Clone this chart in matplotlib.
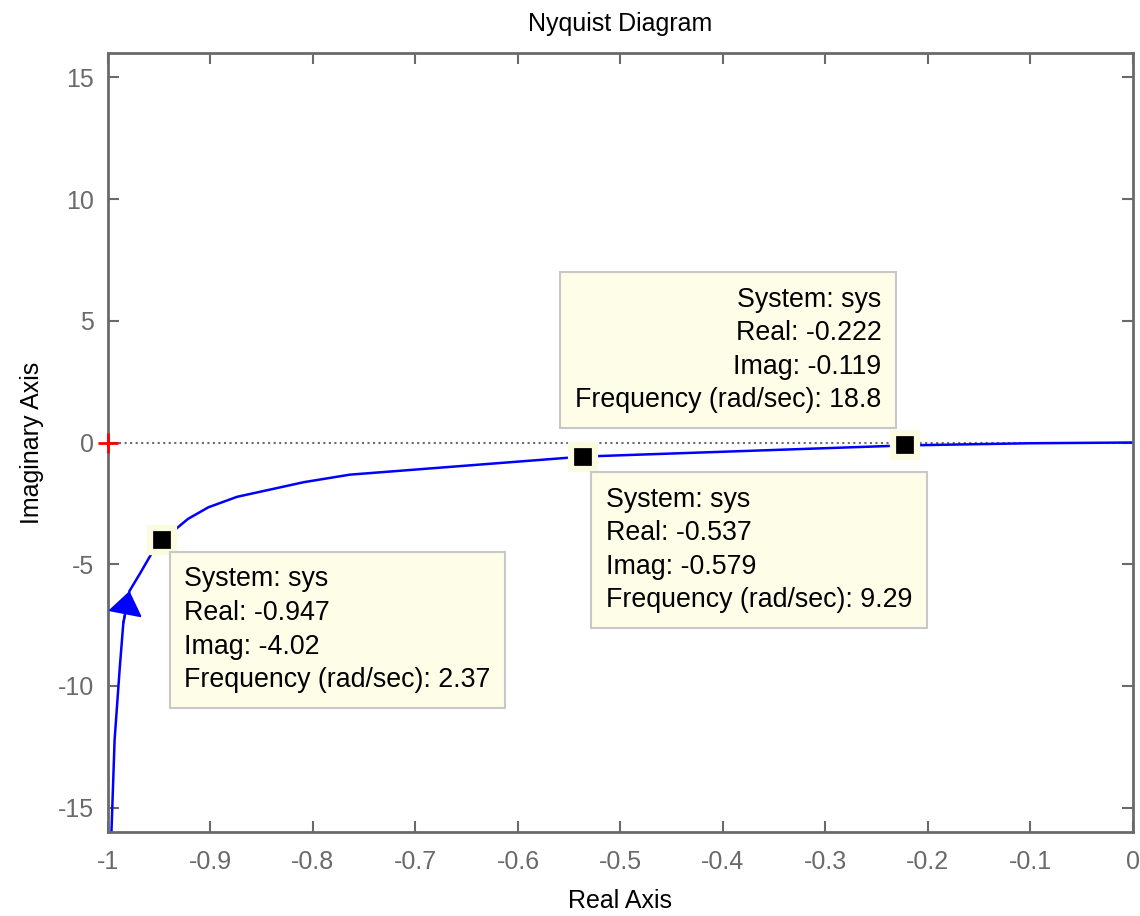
"""Nyquist diagram with three datatips."""

import matplotlib

matplotlib.use("Agg")
import matplotlib.pyplot as plt

plt.rcParams["font.family"] = ["Liberation Sans", "DejaVu Sans"]
plt.rcParams["axes.unicode_minus"] = False

# --- donnees ---
re_vals = [-0.997, -0.9935, -0.9885, -0.985, -0.979, -0.969, -0.958, -0.947,
           -0.922, -0.902, -0.874, -0.809, -0.764, -0.537, -0.222, -0.10, 0.0]
im_vals = [-16.5, -12.2, -9.26, -7.41, -6.1, -5.4, -4.6, -4.02,
           -3.14, -2.66, -2.23, -1.63, -1.32, -0.579, -0.119, -0.03, 0.0]

tip_re = [-0.947, -0.537, -0.222]
tip_im = [-4.02, -0.579, -0.119]
tip_freq = ["2.37", "9.29", "18.8"]

x_ticks = [-1, -0.9, -0.8, -0.7, -0.6, -0.5, -0.4, -0.3, -0.2, -0.1, 0]
x_labels = ["-1", "-0.9", "-0.8", "-0.7", "-0.6", "-0.5", "-0.4", "-0.3", "-0.2", "-0.1", "0"]
y_ticks = [-15, -10, -5, 0, 5, 10, 15]

GRAY = "#6a6a6a"

fig = plt.figure(figsize=(11.4, 9.16), dpi=100)
ax = fig.add_axes([0.0947, 0.0917, 0.8991, 0.8504])

ax.plot([-1, 0], [0, 0], linestyle=":", color=GRAY, linewidth=1.5, zorder=1)
ax.plot(re_vals, im_vals, color="blue", linewidth=1.8, zorder=2)
ax.plot([-1], [0], marker="+", color="red", markersize=15, mew=2, clip_on=False, zorder=4)

# fleche de direction
ax.annotate(
    "",
    xy=(re_vals[4], im_vals[4]),
    xytext=(re_vals[3], im_vals[3]),
    arrowprops=dict(arrowstyle="-|>,head_length=0.75,head_width=0.55",
                    color="blue", mutation_scale=20, shrinkA=0, shrinkB=0, lw=1.5),
    zorder=3,
)

ax.plot(tip_re, tip_im, linestyle="none", marker="s", markersize=17,
        mfc="black", mec="#fbfbe0", mew=4.5, zorder=5)

box = dict(boxstyle="square,pad=0.55", facecolor="#fdfde8", edgecolor="#c8c8c8", lw=1.5)
offsets = [(22, -26, "left", "top"), (23, -30, "left", "top"), (-24, 32, "right", "bottom")]
for r, i, f, (dx, dy, ha, va) in zip(tip_re, tip_im, tip_freq, offsets):
    txt = f"System: sys\nReal: {r:g}\nImag: {i:g}\nFrequency (rad/sec): {f}"
    ax.annotate(txt, xy=(r, i), xytext=(dx, dy), textcoords="offset pixels",
                ha=ha, va=va, multialignment=ha, fontsize=19.3, linespacing=1.38,
                bbox=box, zorder=6)

ax.set_xlim(-1, 0)
ax.set_ylim(-16, 16)
ax.set_xticks(x_ticks)
ax.set_xticklabels(x_labels)
ax.set_yticks(y_ticks)
ax.tick_params(direction="in", length=8, width=1.5, colors=GRAY, labelsize=18,
               top=True, right=True, pad=10)
ax.tick_params(axis="x", pad=13)
for sp in ax.spines.values():
    sp.set_color(GRAY)
    sp.set_linewidth(2)

ax.set_title("Nyquist Diagram", fontsize=18, pad=16)
ax.set_xlabel("Real Axis", fontsize=18, labelpad=11)
ax.set_ylabel("Imaginary Axis", fontsize=18, labelpad=10)

fig.savefig("out.png", dpi=100)
